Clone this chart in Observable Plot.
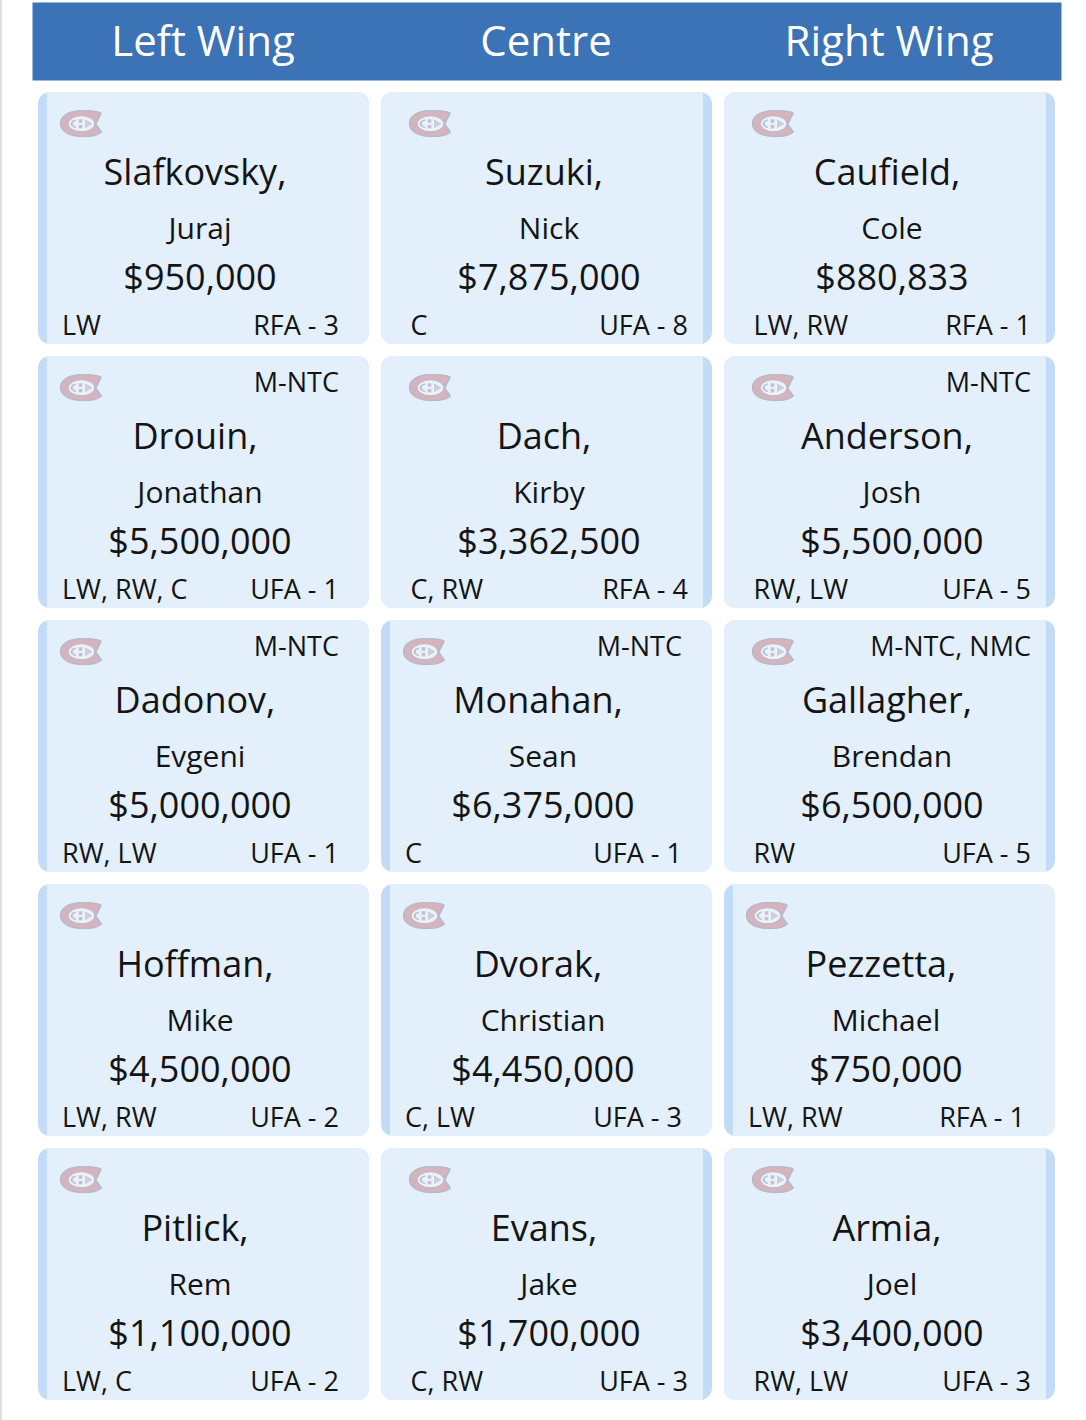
<!DOCTYPE html>
<html>
<head>
<meta charset="utf-8">
<script src="https://cdn.jsdelivr.net/npm/d3@7"></script>
<script src="https://cdn.jsdelivr.net/npm/@observablehq/plot@0.6"></script>
<style>
html,body{margin:0;padding:0;background:#fff;}
svg{display:block;}
</style>
</head>
<body>
<div id="chart"></div>
<script>
const columns = ["Left Wing", "Centre", "Right Wing"];
const rows = [1, 2, 3, 4, 5];
const lastNames = [
  ["Slafkovsky,", "Drouin,", "Dadonov,", "Hoffman,", "Pitlick,"],
  ["Suzuki,", "Dach,", "Monahan,", "Dvorak,", "Evans,"],
  ["Caufield,", "Anderson,", "Gallagher,", "Pezzetta,", "Armia,"]
];
const firstNames = [
  ["Juraj", "Jonathan", "Evgeni", "Mike", "Rem"],
  ["Nick", "Kirby", "Sean", "Christian", "Jake"],
  ["Cole", "Josh", "Brendan", "Michael", "Joel"]
];
const salaries = [
  ["$950,000", "$5,500,000", "$5,000,000", "$4,500,000", "$1,100,000"],
  ["$7,875,000", "$3,362,500", "$6,375,000", "$4,450,000", "$1,700,000"],
  ["$880,833", "$5,500,000", "$6,500,000", "$750,000", "$3,400,000"]
];
const positions = [
  ["LW", "LW, RW, C", "RW, LW", "LW, RW", "LW, C"],
  ["C", "C, RW", "C", "C, LW", "C, RW"],
  ["LW, RW", "RW, LW", "RW", "LW, RW", "RW, LW"]
];
const contracts = [
  ["RFA - 3", "UFA - 1", "UFA - 1", "UFA - 2", "UFA - 2"],
  ["UFA - 8", "RFA - 4", "UFA - 1", "UFA - 3", "UFA - 3"],
  ["RFA - 1", "UFA - 5", "UFA - 5", "RFA - 1", "UFA - 3"]
];
const clauses = [
  ["", "M-NTC", "M-NTC", "", ""],
  ["", "", "M-NTC", "", ""],
  ["", "M-NTC", "M-NTC, NMC", "", ""]
];
const accentSides = [
  ["left", "left", "left", "left", "left"],
  ["right", "right", "left", "left", "right"],
  ["right", "right", "right", "left", "right"]
];

const cards = columns.flatMap((column, c) => rows.map((row, r) => ({
  column, row,
  last: lastNames[c][r], first: firstNames[c][r], salary: salaries[c][r],
  position: positions[c][r], contract: contracts[c][r], clause: clauses[c][r],
  side: accentSides[c][r]
})));

const logoSvg = `<svg xmlns="http://www.w3.org/2000/svg" viewBox="0 0 43 28">
<path d="M42.5 3.5 C39 1.2 33 .3 24 .3 C9 .3 .3 6 .3 14 C.3 22 9 27.7 24 27.7 C33 27.7 39.5 26 42.7 22.5 L37 14.5 Z" fill="#b3bbcb"/>
<path d="M40.5 4.2 C37 2.4 32 1.8 24 1.8 C10 1.8 2 7 2 14 C2 21 10 26.2 24 26.2 C32 26.2 37.5 25 40.7 22.2 L35 14.5 Z" fill="#d9b3bb"/>
<ellipse cx="22" cy="14.3" rx="13.4" ry="8" fill="#eef1f7" stroke="#b3bbcb" stroke-width="1.1"/>
<path d="M16.5 9.8 C12.5 10.8 11 12.7 11 14.3 C11 16 12.5 17.8 16.5 18.8 Z" fill="#bcc3d1"/>
<path d="M16.5 11.5 L13.6 12.6 V16 L16.5 17.1 Z" fill="#eef1f7"/>
<path d="M25.5 9.8 L33 14.3 L25.5 18.8 Z" fill="#c9cfdb"/>
<rect x="19.2" y="9.8" width="3.6" height="3.4" fill="#bcc3d1"/>
<rect x="19.2" y="15.4" width="3.6" height="3.4" fill="#bcc3d1"/>
</svg>`;
const logoUri = "data:image/svg+xml;utf8," + encodeURIComponent(logoSvg);

const ink = "#141414";
const font = "Open Sans";

function cardMarks(side) {
  const data = cards.filter(d => d.side === side);
  const shift = side === "left" ? -4 : 2;
  const inset = side === "left"
    ? {insetLeft: 9}
    : {insetRight: 9};
  const square = side === "left"
    ? {insetLeft: 9, insetRight: 12}
    : {insetLeft: 12, insetRight: 9};
  const base = {x: "column", y: "row"};
  const t = {...base, fontFamily: font, fill: ink};
  return [
    Plot.cell(data, {...base, fill: "#c2dcf7", rx: 12}),
    Plot.cell(data, {...base, fill: "#e3f0fc", rx: 12, ...inset}),
    Plot.cell(data, {...base, fill: "#e3f0fc", ...square}),
    Plot.image(data, {...base, src: () => logoUri, width: 43, height: 28, dx: side === "left" ? -123 : -117, dy: -95}),
    Plot.text(data, {...t, text: "last", fontSize: 36, dx: shift - 5, dy: -45}),
    Plot.text(data, {...t, text: "first", fontSize: 30, dx: shift, dy: 11}),
    Plot.text(data, {...t, text: "salary", fontSize: 36, dx: shift, dy: 60}),
    Plot.text(data, {...t, text: "position", fontSize: 27, textAnchor: "start", dx: side === "left" ? -142 : -136.5, dy: 108}),
    Plot.text(data, {...t, text: "contract", fontSize: 27, textAnchor: "end", dx: side === "left" ? 135 : 141, dy: 108}),
    Plot.text(data, {...t, text: "clause", fontSize: 27, textAnchor: "end", dx: side === "left" ? 135 : 141, dy: -99})
  ];
}

const chart = Plot.plot({
  width: 1086,
  height: 1420,
  marginTop: 92,
  marginLeft: 38,
  marginRight: 31,
  marginBottom: 20,
  style: {background: "linear-gradient(to right, #e0e0e0 2px, #ffffff 2px)", fontFamily: font},
  x: {type: "band", domain: columns, paddingInner: 12 / 343, paddingOuter: 0, label: null},
  y: {type: "band", domain: rows, paddingInner: 12 / 264, paddingOuter: 0, axis: null, label: null},
  marks: [
    Plot.frame({fill: "#3b73b6", stroke: null, insetLeft: -6, insetRight: -6, insetTop: -90, insetBottom: 1320}),
    Plot.axisX({anchor: "top", tickSize: 0, tickPadding: 37, dx: -1, fontSize: 42, fill: "#ffffff", fontFamily: font, label: null}),
    ...cardMarks("left"),
    ...cardMarks("right")
  ]
});
document.getElementById("chart").appendChild(chart);
</script>
</body>
</html>
